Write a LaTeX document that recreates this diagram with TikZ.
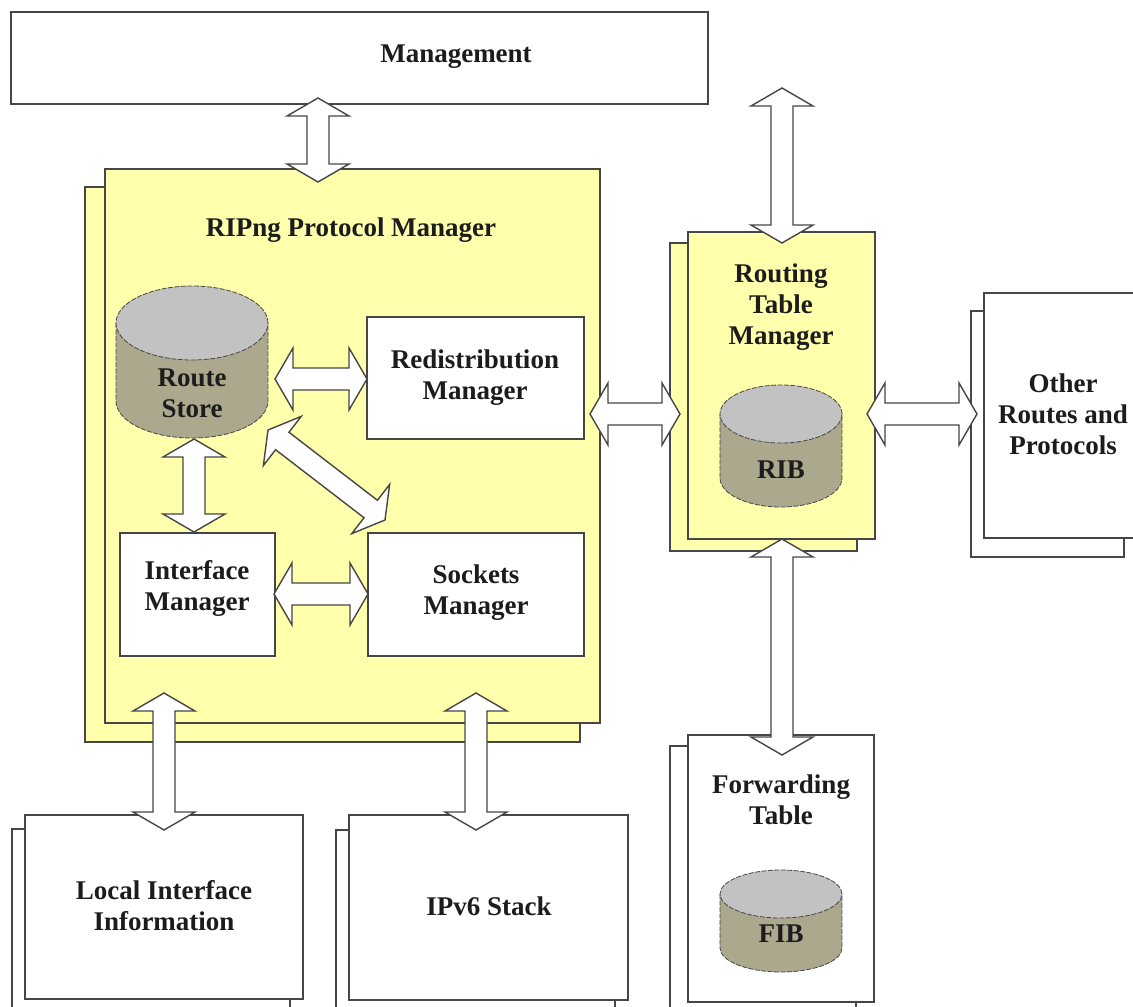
\documentclass[tikz,border=0pt]{standalone}
\usepackage{fontspec}
\setmainfont{Liberation Serif}
\usetikzlibrary{calc}
\definecolor{ylw}{RGB}{255,255,172}
\definecolor{cyltop}{RGB}{194,194,194}
\definecolor{cylbody}{RGB}{172,168,142}
\definecolor{edge}{RGB}{70,70,70}
\definecolor{txt}{RGB}{28,28,28}
\tikzset{
  box/.style={draw=edge,line width=1.4pt,fill=white},
  ybox/.style={draw=edge,line width=1.4pt,fill=ylw},
  lbl/.style={font=\fontsize{27}{31}\selectfont\bfseries,text=txt,align=center,inner sep=0pt},
  cyl/.style={draw=edge,line width=0.8pt,dash pattern=on 5pt off 1.5pt},
  fat/.style={fill=white,draw=edge,line width=1.4pt,line join=miter}
}
\newcommand\fatarrow[2]{%
  \path[fat] (#1)
   -- ($(#1)!18pt!(#2)!31pt!90:(#2)$)
   -- ($(#1)!18pt!(#2)!11pt!90:(#2)$)
   -- ($(#2)!18pt!(#1)!11pt!-90:(#1)$)
   -- ($(#2)!18pt!(#1)!31pt!-90:(#1)$)
   -- (#2)
   -- ($(#2)!18pt!(#1)!31pt!90:(#1)$)
   -- ($(#2)!18pt!(#1)!11pt!90:(#1)$)
   -- ($(#1)!18pt!(#2)!11pt!-90:(#2)$)
   -- ($(#1)!18pt!(#2)!31pt!-90:(#2)$)
   -- cycle;}
% cylinder: name, cx, topy, boty, rx, ry
\newcommand\cylinder[6]{%
  \fill[cylbody] (#2-#5,#3) rectangle (#2+#5,#4);
  \fill[cylbody] (#2,#4) ellipse (#5pt and #6pt);
  \draw[cyl] (#2-#5,#3) -- (#2-#5,#4) arc (180:360:#5pt and #6pt) -- (#2+#5,#3);
  \path[cyl,fill=cyltop] (#2,#3) ellipse (#5pt and #6pt);
  \coordinate (#1) at (#2,#3);}
\begin{document}
\begin{tikzpicture}[x=1pt,y=-1pt]
\useasboundingbox (0,0) rectangle (1133,1007);
\clip (0,0) rectangle (1133,1007);
\fill[white] (0,0) rectangle (1133,1007);

% Management
\draw[box] (11,12) rectangle (708,104);
\node[lbl] (mgmt) at (456,57) {Management};

% RIPng Protocol Manager
\draw[ybox] (85,187) rectangle (580,742);
\draw[ybox] (105,169) rectangle (600,723);
\node[lbl] (ripng) at (351,230) {RIPng Protocol Manager};

% Route store
\cylinder{rs}{192}{323}{401}{76}{37}
\node[lbl] (rstxt) at (192,393) {Route\\Store};

% inner boxes
\draw[box] (367,317) rectangle (584,439);
\node[lbl] (redist) at (475,378) {Redistribution\\Manager};
\draw[box] (120,533) rectangle (275,656);
\node[lbl] (ifm) at (197,588) {Interface\\Manager};
\draw[box] (368,533) rectangle (584,656);
\node[lbl] (sock) at (476,593) {Sockets\\Manager};

% Routing Table Manager
\draw[ybox] (670,243) rectangle (857,551);
\draw[ybox] (688,232) rectangle (875,539);
\node[lbl] (rtm) at (781,307) {Routing\\Table\\Manager};
\cylinder{rib}{781}{414}{478}{61}{29}
\node[lbl] (ribtxt) at (781,470) {RIB};

% Other Routes and Protocols
\draw[box] (971,311) rectangle (1124,557);
\draw[box] (984,293) rectangle (1150,538);
\node[lbl] (other) at (1063,414) {Other\\Routes and\\Protocols};

% Forwarding Table
\draw[box] (670,746) rectangle (856,1020);
\draw[box] (688,735) rectangle (874,1002);
\node[lbl] (fwd) at (781,800) {Forwarding\\Table};
\cylinder{fib}{781}{894}{948}{61}{24}
\node[lbl] (fibtxt) at (781,934) {FIB};

% Local Interface Information
\draw[box] (12,829) rectangle (290,1020);
\draw[box] (25,815) rectangle (303,999);
\node[lbl] (lii) at (164,906) {Local Interface\\Information};

% IPv6 Stack
\draw[box] (336,830) rectangle (615,1020);
\draw[box] (349,815) rectangle (628,1000);
\node[lbl] (ipv6) at (489,906) {IPv6 Stack};

% arrow end points
\coordinate (a1s) at (318,98);  \coordinate (a1e) at (318,182);
\coordinate (a2s) at (782,88);  \coordinate (a2e) at (782,243);
\coordinate (a3s) at (275,379); \coordinate (a3e) at (367,379);
\coordinate (a4s) at (194,439); \coordinate (a4e) at (194,532);
\coordinate (a5s) at (268,430); \coordinate (a5e) at (385,520);
\coordinate (a6s) at (274,594); \coordinate (a6e) at (368,594);
\coordinate (a7s) at (590,414); \coordinate (a7e) at (680,414);
\coordinate (a8s) at (867,414); \coordinate (a8e) at (977,414);
\coordinate (a9s) at (782,539); \coordinate (a9e) at (782,755);
\coordinate (a10s) at (164,693); \coordinate (a10e) at (164,830);
\coordinate (a11s) at (476,693); \coordinate (a11e) at (476,830);

\fatarrow{a1s}{a1e}
\fatarrow{a2s}{a2e}
\fatarrow{a3s}{a3e}
\fatarrow{a4s}{a4e}
\fatarrow{a5s}{a5e}
\fatarrow{a6s}{a6e}
\fatarrow{a7s}{a7e}
\fatarrow{a8s}{a8e}
\fatarrow{a9s}{a9e}
\fatarrow{a10s}{a10e}
\fatarrow{a11s}{a11e}
\end{tikzpicture}
\end{document}
